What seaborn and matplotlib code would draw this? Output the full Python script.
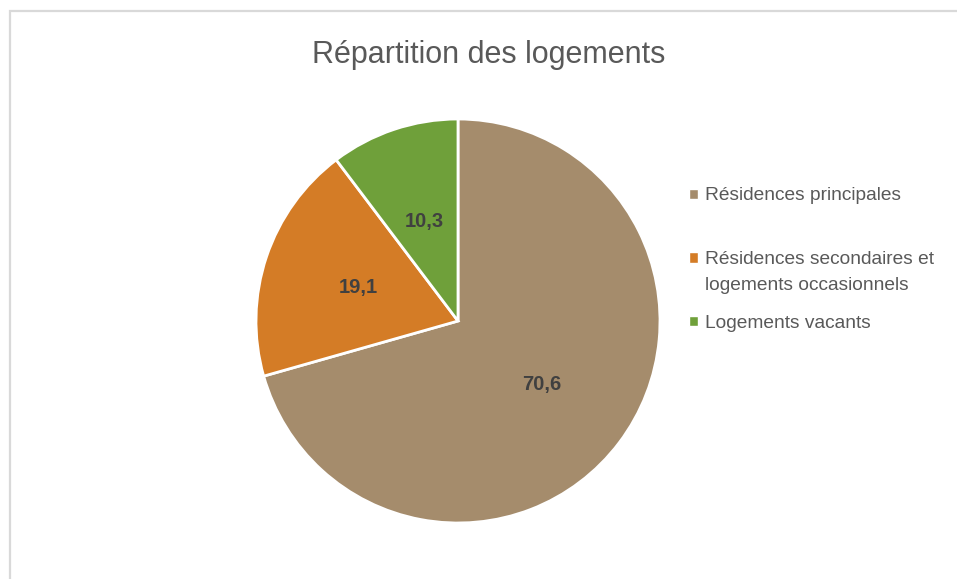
import matplotlib
matplotlib.use("Agg")
import matplotlib.pyplot as plt
from matplotlib.patches import Patch, Rectangle
import seaborn as sns

# données
categories = [
    "Résidences principales",
    "Résidences secondaires et\nlogements occasionnels",
    "Logements vacants",
]
values = [70.6, 19.1, 10.3]
colors = ["#A58C6C", "#D47C26", "#6FA03A"]
title = "Répartition des logements"

W, H, DPI = 957, 579, 100

sns.set_theme(style="white")
plt.rcParams["font.family"] = ["Liberation Sans", "DejaVu Sans"]

fig = plt.figure(figsize=(W / DPI, H / DPI), dpi=DPI)
fig.patch.set_facecolor("white")

# cadre gris (haut et gauche visibles)
fig.add_artist(Rectangle((9.5 / W, -0.1), 1.2, (H - 10.5) / H + 0.1,
                         transform=fig.transFigure, fill=False,
                         edgecolor="#D9D9D9", linewidth=1.6))

cx, cy, r = 458, 321, 202
ax = fig.add_axes([(cx - r) / W, (H - cy - r) / H, 2 * r / W, 2 * r / H])

palette = sns.color_palette(colors)
wedges, texts, autotexts = ax.pie(
    values, colors=palette, startangle=90, counterclock=False,
    autopct=lambda p: f"{p:.1f}".replace(".", ","), pctdistance=0.52,
    wedgeprops=dict(edgecolor="white", linewidth=2.0),
    textprops=dict(fontsize=14.5, fontweight="bold", color="#404040",
                   family=["Liberation Sans Narrow", "Liberation Sans"]),
)
ax.set_xlim(-1, 1)
ax.set_ylim(-1, 1)
ax.set_aspect("equal")

fig.text(489 / W, 1 - 55 / H, title, ha="center", va="center",
         fontsize=22, color="#595959")

# légende
leg_kw = dict(frameon=False, fontsize=13.8, labelcolor="#595959",
              handlelength=0.45, handleheight=0.45, handletextpad=0.4,
              loc="center left", borderaxespad=0, borderpad=0)
blank = Patch(facecolor="none", edgecolor="none")
l1 = fig.legend([Patch(facecolor=colors[0])], [categories[0]],
                bbox_to_anchor=(689 / W, 1 - 196 / H), **leg_kw)
first, second = categories[1].split("\n")
l2 = fig.legend([Patch(facecolor=colors[1]), blank], [first, second],
                bbox_to_anchor=(689 / W, 1 - 272.5 / H), labelspacing=0.45,
                **leg_kw)
l3 = fig.legend([Patch(facecolor=colors[2])], [categories[2]],
                bbox_to_anchor=(689 / W, 1 - 323 / H), **leg_kw)

fig.savefig("out.png", dpi=DPI, facecolor="white")
